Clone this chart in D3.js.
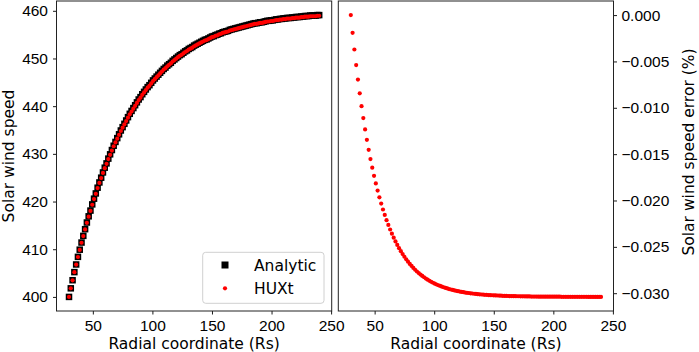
<!DOCTYPE html>
<html>
<head>
<meta charset="utf-8">
<script src="https://cdn.jsdelivr.net/npm/d3@7"></script>
<style>
  body { margin: 0; background: #fff; }
  svg { display: block; font-family: "DejaVu Sans", sans-serif; }
  .tick text { font-size: 15.5px; fill: #000; }
  .tick line { stroke: #000; stroke-width: 0.9; }
</style>
</head>
<body>
<div id="vis-container"></div>
<script>
// radial grid (Rs)
const radial = [
  30,31.5,33,34.5,36,37.5,39,40.5,42,43.5,
  45,46.5,48,49.5,51,52.5,54,55.5,57,58.5,
  60,61.5,63,64.5,66,67.5,69,70.5,72,73.5,
  75,76.5,78,79.5,81,82.5,84,85.5,87,88.5,
  90,91.5,93,94.5,96,97.5,99,100.5,102,103.5,
  105,106.5,108,109.5,111,112.5,114,115.5,117,118.5,
  120,121.5,123,124.5,126,127.5,129,130.5,132,133.5,
  135,136.5,138,139.5,141,142.5,144,145.5,147,148.5,
  150,151.5,153,154.5,156,157.5,159,160.5,162,163.5,
  165,166.5,168,169.5,171,172.5,174,175.5,177,178.5,
  180,181.5,183,184.5,186,187.5,189,190.5,192,193.5,
  195,196.5,198,199.5,201,202.5,204,205.5,207,208.5,
  210,211.5,213,214.5,216,217.5,219,220.5,222,223.5,
  225,226.5,228,229.5,231,232.5,234,235.5,237,238.5,
  240
];

// analytic solar wind speed
const analyticSpeed = [
  400.0,401.8,403.5,405.2,406.8,408.4,409.9,411.4,412.8,414.2,
  415.6,416.9,418.1,419.4,420.6,421.7,422.9,424.0,425.0,426.1,
  427.1,428.0,429.0,429.9,430.8,431.7,432.5,433.3,434.1,434.9,
  435.6,436.3,437.0,437.7,438.4,439.0,439.6,440.2,440.8,441.4,
  441.9,442.5,443.0,443.5,444.0,444.4,444.9,445.4,445.8,446.2,
  446.6,447.0,447.4,447.8,448.1,448.5,448.8,449.1,449.5,449.8,
  450.1,450.4,450.7,450.9,451.2,451.5,451.7,452.0,452.2,452.4,
  452.7,452.9,453.1,453.3,453.5,453.7,453.9,454.0,454.2,454.4,
  454.6,454.7,454.9,455.0,455.2,455.3,455.5,455.6,455.7,455.8,
  456.0,456.1,456.2,456.3,456.4,456.5,456.6,456.7,456.8,456.9,
  457.0,457.1,457.2,457.3,457.4,457.4,457.5,457.6,457.6,457.7,
  457.8,457.9,457.9,458.0,458.0,458.1,458.2,458.2,458.3,458.3,
  458.4,458.4,458.5,458.5,458.5,458.6,458.6,458.7,458.7,458.7,
  458.8,458.8,458.9,458.9,458.9,459.0,459.0,459.0,459.0,459.1,
  459.1
];

// HUXt error relative to analytic (%)
const speedError = [
  0,-0.00191,-0.00371,-0.00539,-0.00696,-0.00844,-0.00982,-0.01111,-0.01233,-0.01346,
  -0.01453,-0.01553,-0.01646,-0.01734,-0.01816,-0.01893,-0.01966,-0.02033,-0.02097,-0.02156,
  -0.02212,-0.02264,-0.02313,-0.02358,-0.02401,-0.02441,-0.02479,-0.02514,-0.02547,-0.02578,
  -0.02607,-0.02635,-0.02660,-0.02684,-0.02706,-0.02727,-0.02747,-0.02766,-0.02783,-0.02799,
  -0.02814,-0.02828,-0.02842,-0.02854,-0.02866,-0.02877,-0.02887,-0.02897,-0.02906,-0.02914,
  -0.02922,-0.02930,-0.02936,-0.02943,-0.02949,-0.02955,-0.02960,-0.02965,-0.02970,-0.02974,
  -0.02978,-0.02982,-0.02986,-0.02989,-0.02993,-0.02996,-0.02998,-0.03001,-0.03003,-0.03006,
  -0.03008,-0.03010,-0.03012,-0.03014,-0.03015,-0.03017,-0.03018,-0.03020,-0.03021,-0.03022,
  -0.03023,-0.03024,-0.03025,-0.03026,-0.03027,-0.03028,-0.03029,-0.03029,-0.03030,-0.03031,
  -0.03031,-0.03032,-0.03032,-0.03033,-0.03033,-0.03034,-0.03034,-0.03034,-0.03035,-0.03035,
  -0.03035,-0.03036,-0.03036,-0.03036,-0.03036,-0.03037,-0.03037,-0.03037,-0.03037,-0.03037,
  -0.03038,-0.03038,-0.03038,-0.03038,-0.03038,-0.03038,-0.03038,-0.03038,-0.03039,-0.03039,
  -0.03039,-0.03039,-0.03039,-0.03039,-0.03039,-0.03039,-0.03039,-0.03039,-0.03039,-0.03039,
  -0.03039,-0.03039,-0.03039,-0.03040,-0.03040,-0.03040,-0.03040,-0.03040,-0.03040,-0.03040,
  -0.03040
];

// HUXt speed follows from analytic speed and its error
const huxtSpeed = analyticSpeed.map((v, i) => v * (1 + speedError[i] / 100));

const xTicks = [50, 100, 150, 200, 250];
const speedTicks = [400, 410, 420, 430, 440, 450, 460];
const errorTicks = [0, -0.005, -0.010, -0.015, -0.020, -0.025, -0.030];

const width = 699;
const height = 352;
const plotTop = 1, plotBottom = 311;
const panel1 = { x0: 56.5, x1: 331.7 };
const panel2 = { x0: 338.3, x1: 613.5 };

const svg = d3.select("#vis-container")
  .append("svg")
  .attr("width", width)
  .attr("height", height);

// scales (matplotlib style 5% margins)
const x1 = d3.scaleLinear().domain([19.5, 250.5]).range([panel1.x0, panel1.x1]);
const x2 = d3.scaleLinear().domain([19.5, 250.5]).range([panel2.x0, panel2.x1]);
const y1 = d3.scaleLinear().domain([397.045, 462.055]).range([plotBottom, plotTop]);
const y2 = d3.scaleLinear().domain([-0.03192, 0.00152]).range([plotBottom, plotTop]);

// Plot 1: speed
{
  svg.append("g")
    .attr("transform", `translate(0,${plotBottom})`)
    .call(d3.axisBottom(x1).tickValues(xTicks).tickSize(3.5).tickPadding(5.5))
    .call((g) => g.select(".domain").remove());

  svg.append("g")
    .attr("transform", `translate(${panel1.x0},0)`)
    .call(d3.axisLeft(y1).tickValues(speedTicks).tickSize(3.5).tickPadding(5))
    .call((g) => g.select(".domain").remove());

  const pts = radial.map((r, i) => ({ r: r, a: analyticSpeed[i], h: huxtSpeed[i] }));

  svg.append("g")
    .selectAll("rect")
    .data(pts)
    .enter()
    .append("rect")
      .attr("x", (d) => x1(d.r) - 3.25)
      .attr("y", (d) => y1(d.a) - 3.25)
      .attr("width", 6.5)
      .attr("height", 6.5)
      .attr("fill", "#000");

  svg.append("g")
    .selectAll("circle")
    .data(pts)
    .enter()
    .append("circle")
      .attr("cx", (d) => x1(d.r))
      .attr("cy", (d) => y1(d.h))
      .attr("r", 2.1)
      .attr("fill", "#ff0000");

  svg.append("rect")
    .attr("x", panel1.x0).attr("y", plotTop)
    .attr("width", panel1.x1 - panel1.x0).attr("height", plotBottom - plotTop)
    .attr("fill", "none").attr("stroke", "#222").attr("stroke-width", 1);

  svg.append("text")
    .attr("x", (panel1.x0 + panel1.x1) / 2)
    .attr("y", 348.5)
    .attr("text-anchor", "middle")
    .attr("font-size", "15.5px")
    .text("Radial coordinate (Rs)");

  svg.append("text")
    .attr("transform", `translate(13.5,${(plotTop + plotBottom) / 2}) rotate(-90)`)
    .attr("text-anchor", "middle")
    .attr("font-size", "15.5px")
    .text("Solar wind speed");

  // legend
  const lg = svg.append("g");
  lg.append("rect")
    .attr("x", 202.7).attr("y", 252.3)
    .attr("width", 121.3).attr("height", 51)
    .attr("rx", 3)
    .attr("fill", "#fff").attr("fill-opacity", 0.8)
    .attr("stroke", "#d0d0d0").attr("stroke-width", 1);
  lg.append("rect")
    .attr("x", 225 - 3.5).attr("y", 265 - 3.5)
    .attr("width", 7).attr("height", 7)
    .attr("fill", "#000");
  lg.append("circle")
    .attr("cx", 225).attr("cy", 288.3).attr("r", 2.1)
    .attr("fill", "#ff0000");
  lg.selectAll("text.lab")
    .data(["Analytic", "HUXt"])
    .enter()
    .append("text")
      .attr("x", 254)
      .attr("y", (d, i) => [265, 288.3][i])
      .attr("dy", "0.36em")
      .attr("font-size", "15.5px")
      .text((d) => d);
}

// Plot 2: error
{
  svg.append("g")
    .attr("transform", `translate(0,${plotBottom})`)
    .call(d3.axisBottom(x2).tickValues(xTicks).tickSize(3.5).tickPadding(5.5))
    .call((g) => g.select(".domain").remove());

  svg.append("g")
    .attr("transform", `translate(${panel2.x1},0)`)
    .call(d3.axisRight(y2).tickValues(errorTicks).tickSize(3.5).tickPadding(4.5).tickFormat(d3.format(".3f")))
    .call((g) => g.select(".domain").remove());

  svg.append("g")
    .selectAll("circle")
    .data(radial.map((r, i) => ({ r: r, e: speedError[i] })))
    .enter()
    .append("circle")
      .attr("cx", (d) => x2(d.r))
      .attr("cy", (d) => y2(d.e))
      .attr("r", 2.1)
      .attr("fill", "#ff0000");

  svg.append("rect")
    .attr("x", panel2.x0).attr("y", plotTop)
    .attr("width", panel2.x1 - panel2.x0).attr("height", plotBottom - plotTop)
    .attr("fill", "none").attr("stroke", "#222").attr("stroke-width", 1);

  svg.append("text")
    .attr("x", (panel2.x0 + panel2.x1) / 2)
    .attr("y", 348.5)
    .attr("text-anchor", "middle")
    .attr("font-size", "15.5px")
    .text("Radial coordinate (Rs)");

  svg.append("text")
    .attr("transform", "translate(694,152) rotate(-90)")
    .attr("text-anchor", "middle")
    .attr("font-size", "15.5px")
    .text("Solar wind speed error (%)");
}
</script>
</body>
</html>
